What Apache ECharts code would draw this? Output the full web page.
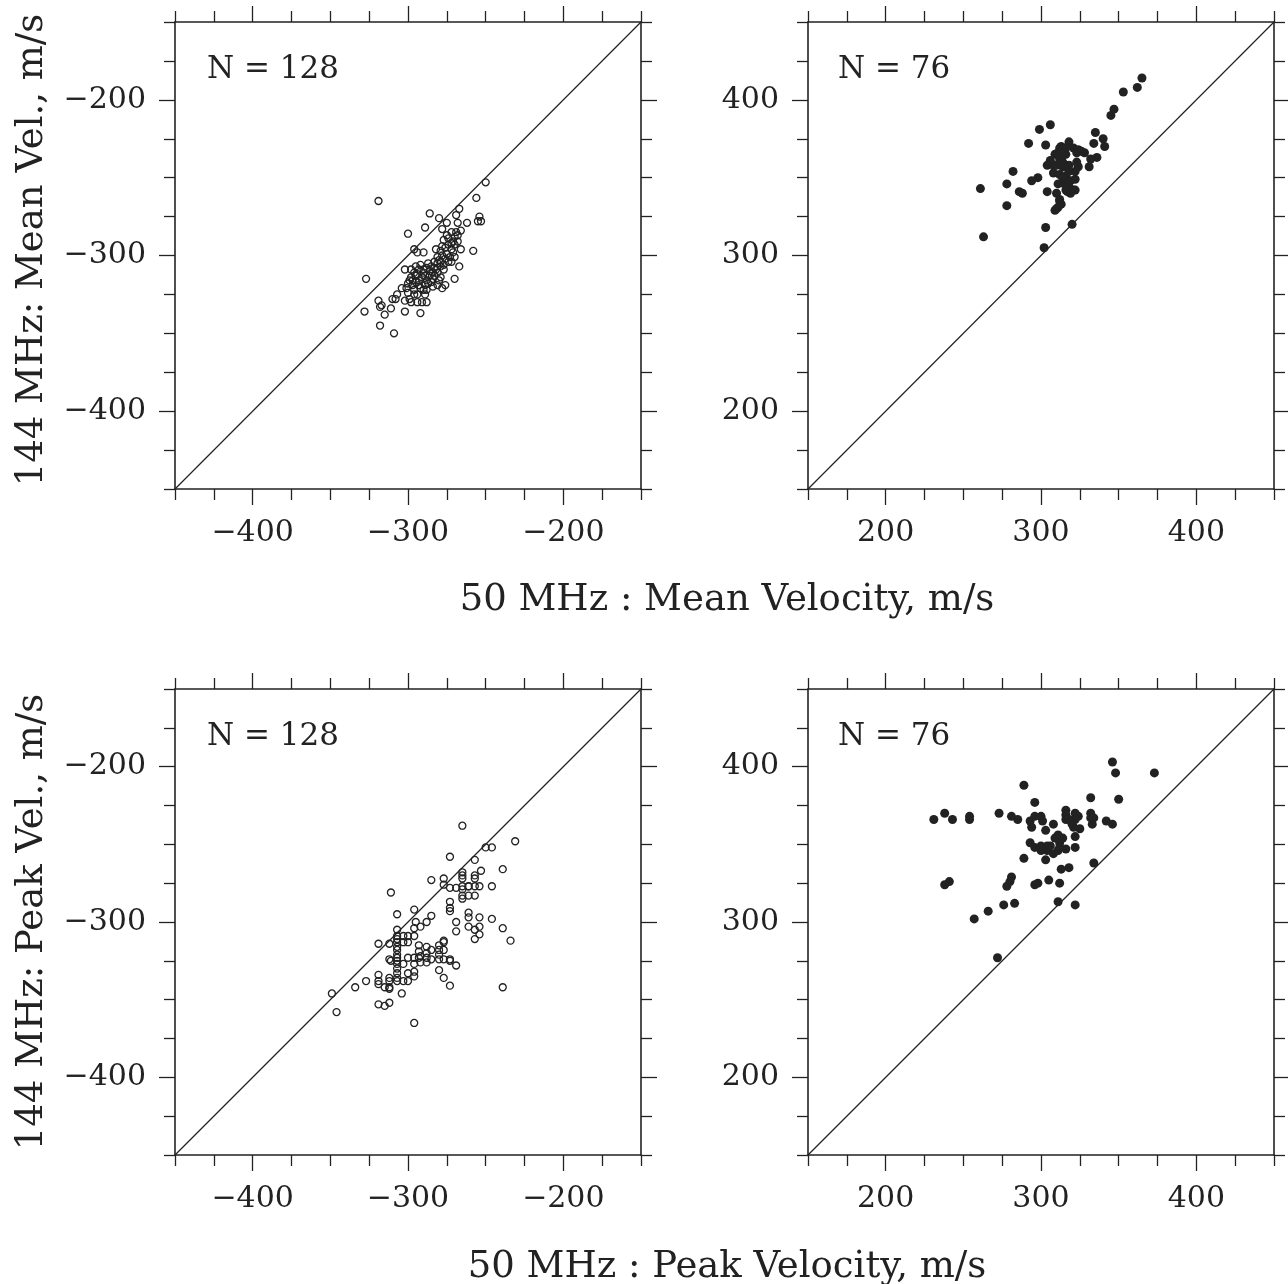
<!DOCTYPE html>
<html>
<head>
<meta charset="utf-8">
<script src="https://cdn.jsdelivr.net/npm/echarts@6/dist/echarts.min.js"></script>
<style>
html,body{margin:0;padding:0;background:#fff;}
#chart{width:1288px;height:1284px;}
</style>
</head>
<body>
<div id="chart"></div>
<script>
// ---------- data ----------
const negRange = [-450, -150];
const posRange = [150, 450];
const negMajorTicks = [-400, -300, -200];
const posMajorTicks = [200, 300, 400];
const negMinorTicks = [-450, -425, -375, -350, -325, -275, -250, -225, -175, -150];
const posMinorTicks = [150, 175, 225, 250, 275, 325, 350, 375, 425, 450];

const panelLabels = ['N = 128', 'N = 76', 'N = 128', 'N = 76'];
const xTitles = ['50 MHz : Mean Velocity, m/s', '50 MHz : Peak Velocity, m/s'];
const yTitles = ['144 MHz: Mean Vel., m/s', '144 MHz: Peak Vel., m/s'];

// top-left: mean velocity, negative (open circles)
const meanNeg = [
[-250,-253],[-319,-265],[-256,-263],[-267,-270],[-286,-273],[-269,-274],[-254,-275],[-280,-276],
[-275,-279],[-268,-279],[-262,-279],[-255,-278],[-253,-278],[-289,-282],[-278,-283],[-300,-286],
[-266,-284],[-272,-285],[-269,-285],[-274,-289],[-270,-288],[-277,-290],[-271,-291],[-268,-291],
[-274,-293],[-270,-293],[-266,-296],[-258,-297],[-272,-296],[-278,-294],[-282,-296],[-296,-296],
[-294,-298],[-290,-298],[-275,-299],[-278,-300],[-281,-301],[-270,-301],[-272,-304],[-279,-304],
[-283,-304],[-287,-305],[-292,-306],[-285,-307],[-279,-307],[-288,-308],[-293,-309],[-302,-309],
[-267,-307],[-282,-309],[-277,-309],[-286,-310],[-290,-311],[-295,-313],[-298,-314],[-291,-314],
[-283,-313],[-279,-314],[-270,-315],[-327,-315],[-299,-316],[-295,-317],[-288,-316],[-285,-317],
[-280,-316],[-297,-319],[-293,-319],[-289,-319],[-281,-319],[-276,-319],[-304,-321],[-301,-321],
[-278,-321],[-296,-322],[-290,-322],[-300,-324],[-307,-325],[-294,-325],[-289,-325],[-310,-328],
[-308,-328],[-299,-328],[-302,-329],[-319,-329],[-294,-330],[-291,-330],[-288,-330],[-317,-332],
[-318,-333],[-328,-336],[-311,-334],[-302,-336],[-292,-337],[-315,-338],[-318,-345],[-309,-350],
[-298,-330],[-298,-309],[-289,-313],[-284,-311],[-281,-305],[-276,-302],[-273,-301],
[-296,-311],[-293,-316],[-287,-318],[-284,-315],[-290,-309],[-295,-307],[-286,-313],[-292,-321],
[-297,-316],[-283,-308],[-288,-322],[-300,-318],[-275,-287],[-272,-292],[-268,-287],[-276,-295],
[-271,-298],[-279,-297],[-274,-304],[-277,-306],[-281,-311],[-284,-320],[-294,-312],[-296,-325],
[-280,-303]
];

// top-right: mean velocity, positive (filled dots)
const meanPos = [
[365,414],[362,408],[353,405],[347,394],[345,390],[306,384],[299,381],[292,372],[303,371],[335,379],
[334,372],[340,375],[341,370],[318,373],[313,370],[321,369],[324,368],[328,366],[311,366],[309,365],
[316,365],[314,364],[336,363],[332,362],[306,361],[304,358],[310,358],[314,357],[318,358],[324,357],
[322,354],[331,357],[282,354],[298,350],[294,348],[308,353],[312,352],[316,351],[322,349],[311,346],
[315,346],[318,344],[321,342],[261,343],[278,346],[286,341],[288,340],[304,341],[310,340],[317,341],
[322,342],[319,340],[278,332],[312,335],[310,330],[313,333],[309,329],[303,318],[320,320],[263,312],
[302,305],[312,362],[323,360],[317,348],[316,369],[326,367],[312,369],[308,358],[318,354],[314,350],
[319,348],[316,342],[312,336],[311,331],[323,366],[314,360]
];

// bottom-left: peak velocity, negative (open circles)
const peakNeg = [
[-311,-281],[-307,-295],[-296,-292],[-319,-314],[-312,-314],[-307,-305],[-307,-309],[-303,-309],
[-300,-309],[-296,-309],[-300,-313],[-307,-313],[-307,-316],[-307,-318],[-295,-300],[-296,-304],
[-292,-303],[-288,-300],[-293,-315],[-293,-319],[-288,-316],[-292,-322],[-288,-323],[-296,-323],
[-312,-324],[-311,-325],[-307,-323],[-307,-327],[-303,-327],[-307,-330],[-307,-333],[-296,-332],
[-296,-335],[-319,-334],[-312,-336],[-307,-338],[-303,-338],[-300,-338],[-327,-338],[-319,-340],
[-315,-342],[-312,-342],[-312,-343],[-334,-342],[-349,-346],[-304,-346],[-346,-358],[-319,-353],
[-315,-354],[-312,-352],[-296,-365],[-307,-321],
[-265,-238],[-231,-248],[-250,-252],[-246,-252],[-273,-258],[-257,-260],[-239,-266],[-253,-267],
[-265,-268],[-265,-270],[-265,-272],[-257,-270],[-257,-272],[-277,-272],[-285,-273],[-277,-276],
[-273,-278],[-269,-278],[-265,-277],[-261,-277],[-257,-277],[-254,-277],[-246,-277],[-265,-283],
[-261,-283],[-265,-285],[-273,-287],[-273,-291],[-273,-293],[-285,-296],[-261,-294],[-261,-297],
[-254,-297],[-246,-298],[-269,-300],[-261,-303],[-254,-303],[-239,-304],[-257,-305],[-269,-306],
[-254,-308],[-257,-311],[-234,-312],[-277,-312],[-277,-313],[-280,-315],[-285,-318],[-280,-318],
[-288,-320],[-285,-324],[-280,-324],[-277,-324],[-273,-325],[-269,-328],[-292,-326],[-280,-331],
[-277,-336],[-273,-341],[-239,-342],
[-307,-311],[-307,-325],[-307,-336],[-303,-313],[-300,-323],[-296,-327],[-312,-338],[-319,-338],
[-293,-323],[-288,-326],[-265,-279],[-261,-277],[-257,-283],[-277,-318],[-280,-321],[-273,-324],
[-300,-333]
];

// bottom-right: peak velocity, positive (filled dots)
const peakPos = [
[289,388],[296,377],[231,366],[238,370],[243,366],[254,368],[254,366],[273,370],[281,368],[285,366],
[293,365],[294,361],[296,368],[300,368],[301,365],[303,359],[308,363],[311,356],[309,354],[293,351],
[296,348],[300,349],[304,349],[304,346],[303,340],[308,344],[311,346],[289,341],[313,334],[281,329],
[280,326],[278,323],[238,324],[241,326],[296,324],[298,325],[305,327],[312,325],[311,313],[283,312],
[276,311],[266,307],[257,302],[272,277],
[346,403],[348,396],[373,396],[332,380],[350,379],[316,372],[316,369],[316,366],[322,370],[324,368],
[322,366],[321,361],[325,360],[332,370],[332,367],[333,363],[334,367],[342,365],[346,363],[312,351],
[314,354],[322,355],[316,347],[322,348],[318,335],[334,338],[322,311],
[318,366],[320,363],[312,348],[306,349],[300,346]
];

// ---------- chart ----------
const FONT = 'DejaVu Serif';
const INK = '#222';
const chart = echarts.init(document.getElementById('chart'), null, {renderer: 'canvas'});

const grids = [
  {left: 175, top: 22, width: 466, height: 467},
  {left: 808, top: 22, width: 466, height: 467},
  {left: 175, top: 689, width: 466, height: 466},
  {left: 808, top: 689, width: 466, height: 466}
];
const panels = [
  {range: negRange, major: negMajorTicks, minor: negMinorTicks, data: meanNeg, open: true},
  {range: posRange, major: posMajorTicks, minor: posMinorTicks, data: meanPos, open: false},
  {range: negRange, major: negMajorTicks, minor: negMinorTicks, data: peakNeg, open: true},
  {range: posRange, major: posMajorTicks, minor: posMinorTicks, data: peakPos, open: false}
];

function fmt(v) { return v < 0 ? '\u2212' + Math.abs(v) : String(v); }

const xAxes = [], yAxes = [], series = [];
panels.forEach((p, g) => {
  function axis(pos, ticks, len, labels, line, margin) {
    return {
      type: 'value', gridIndex: g, min: p.range[0], max: p.range[1], position: pos,
      axisLine: {show: line, onZero: false, lineStyle: {color: INK, width: 1.6}},
      axisTick: {show: true, inside: false, length: len, customValues: ticks,
                 lineStyle: {color: INK, width: 1.3}},
      axisLabel: labels ? {show: true, customValues: p.major, formatter: fmt, margin: margin,
                 fontFamily: FONT, fontSize: 30, color: INK} : {show: false},
      splitLine: {show: false}
    };
  }
  xAxes.push(axis('bottom', p.major, 16, true, true, 29));
  xAxes.push(axis('bottom', p.minor, 11, false, false));
  xAxes.push(axis('top', p.major, 16, false, true));
  xAxes.push(axis('top', p.minor, 11, false, false));
  yAxes.push(axis('left', p.major, 16, true, true, 29));
  yAxes.push(axis('left', p.minor, 11, false, false));
  yAxes.push(axis('right', p.major, 16, false, true));
  yAxes.push(axis('right', p.minor, 11, false, false));

  series.push({
    type: 'line', xAxisIndex: 4 * g, yAxisIndex: 4 * g,
    data: [[p.range[0], p.range[0]], [p.range[1], p.range[1]]],
    symbol: 'none', silent: true, z: 1,
    lineStyle: {color: INK, width: 1.2}
  });
  series.push({
    type: 'scatter', xAxisIndex: 4 * g, yAxisIndex: 4 * g, data: p.data, z: 2,
    symbol: 'circle', symbolSize: p.open ? 7 : 9,
    itemStyle: p.open ? {color: 'rgba(0,0,0,0)', borderColor: INK, borderWidth: 1.3, opacity: 1}
                      : {color: INK, borderWidth: 0, opacity: 1}
  });
});

const graphic = [];
const nPos = [[207, 70], [838, 70], [207, 737], [838, 737]];
panelLabels.forEach((t, i) => {
  graphic.push({type: 'text', x: nPos[i][0], y: nPos[i][1],
    style: {text: t, font: '31px "' + FONT + '"', fill: INK, textAlign: 'left', textVerticalAlign: 'middle'}});
});
[600, 1267].forEach((y, i) => {
  graphic.push({type: 'text', x: 727, y: y,
    style: {text: xTitles[i], font: '37px "' + FONT + '"', fill: INK, textAlign: 'center', textVerticalAlign: 'middle'}});
});
[250, 922].forEach((y, i) => {
  graphic.push({type: 'text', x: 32, y: y, rotation: Math.PI / 2,
    style: {text: yTitles[i], font: '37px "' + FONT + '"', fill: INK, textAlign: 'center', textVerticalAlign: 'middle'}});
});

chart.setOption({
  animation: false,
  backgroundColor: '#fff',
  grid: grids,
  xAxis: xAxes,
  yAxis: yAxes,
  series: series,
  graphic: graphic
});
</script>
</body>
</html>
